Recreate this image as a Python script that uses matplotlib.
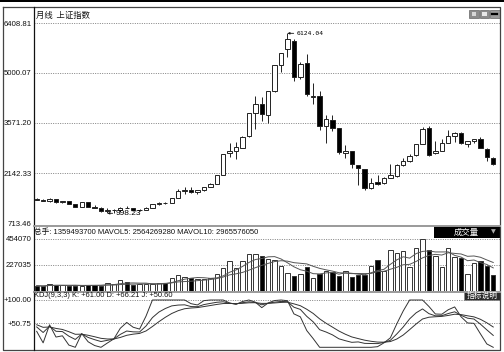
import numpy as np
import pandas as pd
import matplotlib
matplotlib.use('Agg')
import matplotlib.pyplot as plt
from matplotlib.patches import Rectangle

plt.rcParams['font.family'] = ['Liberation Sans', 'Noto Sans CJK SC']

# ---------------- data (monthly, Jul 2004 - Jun 2010) ----------------
months = pd.period_range('2004-07', '2010-06', freq='M').astype(str).tolist()
opens = [1399, 1386, 1342, 1396, 1320, 1340, 1261, 1191, 1306, 1181, 1159, 1060,
         1080, 1083, 1162, 1155, 1092, 1099, 1163, 1258, 1299, 1298, 1440, 1641,
         1672, 1612, 1658, 1752, 1837, 2099, 2728, 2786, 2871, 3197, 3841, 4113,
         3802, 4485, 5233, 5683, 5914, 4868, 5265, 4318, 4333, 3471, 3667, 3430,
         2708, 2763, 2388, 2267, 1720, 1878, 1849, 1993, 2074, 2382, 2493, 2651,
         2967, 3424, 2715, 2784, 3005, 3213, 3289, 2982, 3063, 3123, 2835, 2573]
highs = [1425, 1400, 1420, 1410, 1360, 1350, 1275, 1320, 1315, 1230, 1165, 1140,
         1110, 1175, 1210, 1160, 1115, 1170, 1262, 1306, 1307, 1445, 1686, 1733,
         1757, 1660, 1753, 1850, 2100, 2698, 2994, 3040, 3197, 3841, 4335, 4311,
         4471, 5218, 5552, 6124.04, 5952, 5304, 5522, 4696, 4473, 3786, 3786, 3432,
         2953, 2786, 2388, 2267, 2000, 2100, 2023, 2402, 2404, 2579, 2688, 2983,
         3454, 3478, 3068, 3123, 3361, 3308, 3306, 3071, 3127, 3181, 2861, 2602]
lows = [1370, 1335, 1325, 1305, 1300, 1259, 1185, 1180, 1165, 1140, 1044, 998.23,
        1004, 1075, 1140, 1067, 1074, 1088, 1163, 1242, 1258, 1295, 1437, 1541,
        1587, 1541, 1640, 1749, 1820, 2083, 2604, 2541, 2870, 3183, 3404, 3616,
        3563, 4457, 5030, 5462, 4778, 4812, 4330, 4123, 3357, 2990, 3333, 2693,
        2566, 2284, 1802, 1664, 1678, 1814, 1844, 1990, 2037, 2332, 2447, 2631,
        2958, 2639, 2700, 2782, 2993, 3039, 2986, 2890, 2993, 2861, 2481, 2382]
closes = [1386, 1342, 1396, 1320, 1340, 1266, 1191, 1306, 1181, 1159, 1060, 1080,
          1083, 1162, 1155, 1092, 1099, 1161, 1258, 1299, 1298, 1440, 1641, 1672,
          1612, 1658, 1752, 1837, 2099, 2675, 2786, 2881, 3183, 3841, 4109, 3820,
          4471, 5218, 5552, 5954, 4871, 5261, 4383, 4348, 3472, 3693, 3433, 2736,
          2775, 2397, 2293, 1729, 1871, 1821, 1991, 2082, 2373, 2477, 2633, 2959,
          3412, 2667, 2779, 2995, 3195, 3277, 2989, 3051, 3110, 2870, 2592, 2398]
volumes = [46000, 41000, 58500, 52400, 49800, 46000, 46000, 48000, 52400, 52400, 48000, 67000,
           58500, 93400, 81200, 52400, 58500, 58500, 58500, 67000, 72500, 111000, 140000, 125000,
           111000, 102000, 102000, 111000, 146000, 198000, 262000, 203000, 262000, 320000, 327000, 306000,
           277000, 271000, 218000, 160000, 131000, 148000, 207000, 111000, 148000, 177000, 166000, 131000,
           177000, 122000, 140000, 140000, 218000, 271000, 177000, 358000, 336000, 352000, 212000, 375000,
           454070, 358000, 306000, 212000, 378000, 300000, 285000, 148000, 242000, 265000, 218000, 135949]

price_ticks = [713.46, 2142.33, 3571.20, 5000.07, 6408.81]
price_tick_labels = ['713.46', '2142.33', '3571.20', '5000.07', '6408.81']
vol_ticks = [227035, 454070]
vol_tick_labels = ['227035', '454070']
kdj_ticks = [50.75, 100.00]
kdj_tick_labels = ['+50.75', '+100.00']

title_text = '月线  上证指数'
vol_header = '总手: 1359493700 MAVOL5: 2564269280 MAVOL10: 2965576050'
kdj_header = 'KDJ(9,3,3) K: +61.00 D: +66.21 J: +50.60'

# ---------------- derived indicators ----------------
o = np.array(opens, float); h = np.array(highs, float)
l = np.array(lows, float); c = np.array(closes, float)
v = np.array(volumes, float)
n = len(c)
x = np.arange(n)
up = c >= o

ma5 = pd.Series(v).rolling(5, min_periods=1).mean().values
ma10 = pd.Series(v).rolling(10, min_periods=1).mean().values

K = np.zeros(n); D = np.zeros(n)
kp, dp = 50.0, 50.0
for i in range(n):
    lo_n = l[max(0, i - 8):i + 1].min()
    hi_n = h[max(0, i - 8):i + 1].max()
    rsv = (c[i] - lo_n) / (hi_n - lo_n) * 100 if hi_n > lo_n else 50
    kp = (2 * kp + rsv) / 3
    dp = (2 * dp + kp) / 3
    K[i], D[i] = kp, dp
J = np.clip(3 * K - 2 * D, 0, 100)

# ---------------- figure ----------------
W, H = 504, 352
fig = plt.figure(figsize=(W / 100, H / 100), dpi=100)
fig.patch.set_facecolor('white')


def rect(x0, y0, x1, y1):
    return [x0 / W, 1 - y1 / H, (x1 - x0) / W, (y1 - y0) / H]


ax_p = fig.add_axes(rect(34, 8, 500, 225))
ax_v = fig.add_axes(rect(34, 226, 500, 291))
ax_k = fig.add_axes(rect(34, 292, 500, 349))

xlim = (-0.42, n - 1 + 1.05)
grid_kw = dict(color='#808080', lw=0.7, linestyle=(0, (1, 1.4)), zorder=0)

for ax in (ax_p, ax_v, ax_k):
    ax.set_xlim(*xlim)
    for s in ax.spines.values():
        s.set_visible(False)
    ax.set_xticks([])
    ax.tick_params(axis='y', length=0, pad=1.6, labelsize=5.6, colors='#111')

# price panel
ax_p.set_ylim(665.0, 6845.1)
ax_p.set_yticks(price_ticks, price_tick_labels)
for t in price_ticks[1:]:
    ax_p.axhline(t, **grid_kw)
body_lo = np.minimum(o, c)
body_h = np.abs(c - o)
ax_p.vlines(x, l, h, color='#222', lw=0.7, zorder=2)
ax_p.bar(x, body_h, bottom=body_lo, width=0.68,
         color=np.where(up, 'white', 'black'), edgecolor='#222',
         linewidth=0.7, zorder=3)
imax = int(np.argmax(h)); imin = int(np.argmin(l))
ax_p.annotate(f'{h[imax]:.2f}', xy=(imax, h[imax]), xytext=(9, 0),
              textcoords='offset pixels', va='center', ha='left',
              family='DejaVu Sans Mono', fontsize=4.6,
              arrowprops=dict(arrowstyle='-|>', lw=0.6, color='#111',
                              mutation_scale=3, shrinkA=0, shrinkB=0), zorder=5)
ax_p.annotate(f'{l[imin]:.2f}', xy=(imin, l[imin]), xytext=(8, 0),
              textcoords='offset pixels', va='center', ha='left',
              fontsize=6,
              arrowprops=dict(arrowstyle='-|>', lw=0.6, color='#111',
                              mutation_scale=3, shrinkA=0, shrinkB=0), zorder=5)

# volume panel
ax_v.set_ylim(0, 567580)
ax_v.set_yticks(vol_ticks, vol_tick_labels)
for t in vol_ticks:
    ax_v.axhline(t, **grid_kw)
ax_v.bar(x, v, width=0.68, color=np.where(up, 'white', 'black'),
         edgecolor='#333', linewidth=0.7, zorder=2)
ax_v.plot(x, ma5, color='#555', lw=0.7, zorder=3)
ax_v.plot(x, ma10, color='#555', lw=0.7, zorder=3)

# KDJ panel
ax_k.set_ylim(-3.6, 116.9)
ax_k.set_yticks(kdj_ticks, kdj_tick_labels)
for t in kdj_ticks:
    ax_k.axhline(t, **grid_kw)
for series in (K, D, J):
    ax_k.plot(x, series, color='#333', lw=0.7, zorder=3)

# ---------------- overlay: frame, headers, buttons ----------------
ov = fig.add_axes([0, 0, 1, 1], zorder=10)
ov.set_xlim(0, W); ov.set_ylim(H, 0)
ov.axis('off'); ov.patch.set_visible(False)

ov.add_patch(Rectangle((0, 0), W, 2, color='black', lw=0))
ov.plot([3, 500, 500, 3, 3], [7, 7, 350, 350, 7], color='#444', lw=0.9)
ov.plot([34, 34], [7, 350], color='#111', lw=0.9)
ov.plot([34, 500], [225.5, 225.5], color='#9a9a9a', lw=1.4)
ov.plot([34, 500], [291.5, 291.5], color='#9a9a9a', lw=1.4)

ov.text(35.5, 15.5, title_text, fontsize=6, va='center', ha='left',
        family=['Noto Sans CJK SC'], color='#111')
ov.text(34.5, 232, vol_header, fontsize=5.5, va='center', ha='left', color='#111')
ov.text(34.5, 295.3, kdj_header, fontsize=5.4, va='center', ha='left', color='#111')

# top-right buttons
ov.add_patch(Rectangle((469, 9.5), 9.5, 8, facecolor='#8c8c8c', edgecolor='#666', lw=0.5))
ov.add_patch(Rectangle((479.5, 9.5), 9.5, 8, facecolor='#8c8c8c', edgecolor='#666', lw=0.5))
ov.add_patch(Rectangle((490, 9.5), 9.5, 8, facecolor='#9a9a9a', edgecolor='#666', lw=0.5))
ov.add_patch(Rectangle((471.5, 11.5), 4.5, 4, facecolor='#d8d8d8', lw=0))
ov.add_patch(Rectangle((482, 11.5), 4.5, 4, facecolor='#e8e8e8', lw=0))
ov.plot([492, 497], [13.5, 13.5], color='black', lw=1.6)

# 成交量 box
ov.add_patch(Rectangle((433.7, 225.7), 66.3, 12.6, facecolor='black', lw=0))
ov.text(466, 232, '成交量', color='white', fontsize=6, va='center', ha='center',
        family=['Noto Sans CJK SC'])
ov.text(493, 232, '▼', color='#aaaaaa', fontsize=4.5, va='center', ha='center',
        family=['DejaVu Sans'])

# 指标说明 box
ov.add_patch(Rectangle((463.7, 291.5), 36.3, 8, facecolor='#2a2a2a', edgecolor='#888', lw=0.5))
ov.text(481.8, 295.6, '指标说明', color='white', fontsize=5.6, va='center', ha='center',
        family=['Noto Sans CJK SC'])

fig.savefig('out.png', dpi=100, facecolor='white')
